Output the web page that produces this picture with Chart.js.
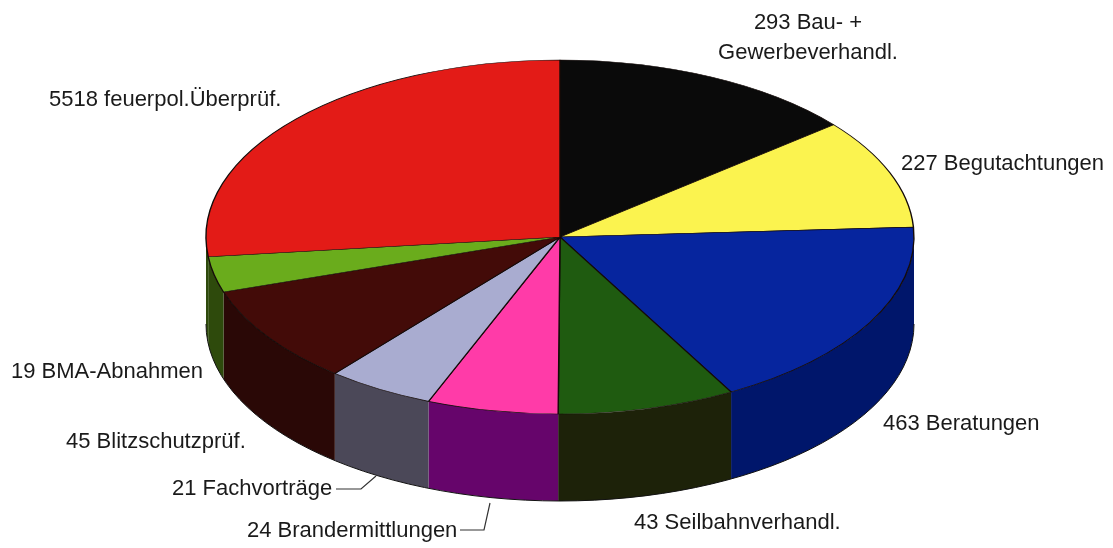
<!DOCTYPE html>
<html>
<head>
<meta charset="utf-8">
<style>
  html, body { margin: 0; background: #fff; }
  canvas { display: block; }
</style>
<script src="https://cdn.jsdelivr.net/npm/chart.js@4"></script>
</head>
<body>
<canvas id="chart" width="1113" height="548"></canvas>
<script>
// clockwise from 12 o'clock
const categories = ['Bau- + Gewerbeverhandl.', 'Begutachtungen', 'Beratungen', 'Seilbahnverhandl.',
  'Brandermittlungen', 'Fachvorträge', 'Blitzschutzprüf.', 'BMA-Abnahmen', 'feuerpol.Überprüf.'];
const labelCounts = [293, 227, 463, 43, 24, 21, 45, 19, 5518];
// the slices in the picture do not follow the printed counts, so these are read off as degrees
const sliceDegrees = [50.6, 36.2, 64.3, 29.2, 21.5, 17.7, 32.4, 11.7, 96.4];
const topColors = ['#0a0a0a', '#fbf34f', '#06259e', '#1f5b10', '#ff3ba8', '#a9acd0', '#430b08', '#6aac1c', '#e31b17'];
const sideColors = ['#050505', '#8a8520', '#00166b', '#1d2209', '#66056b', '#4b4858', '#2a0806', '#2e4a0c', '#2e4a0c'];

const SQUASH = 0.5;
const DEPTH = 87;
const FONT = '22px "Liberation Sans", Arial, sans-serif';

// text block per slice: x, baseline y, align
const labelBoxes = [
  { lines: [`${labelCounts[0]} Bau- +`, 'Gewerbeverhandl.'], x: 808, y: [29, 59], align: 'center' },
  { lines: [`${labelCounts[1]} Begutachtungen`], x: 901, y: [170], align: 'left' },
  { lines: [`${labelCounts[2]} Beratungen`], x: 883, y: [430], align: 'left' },
  { lines: [`${labelCounts[3]} Seilbahnverhandl.`], x: 634, y: [529], align: 'left' },
  { lines: [`${labelCounts[4]} Brandermittlungen`], x: 247, y: [537], align: 'left' },
  { lines: [`${labelCounts[5]} Fachvorträge`], x: 172, y: [495], align: 'left' },
  { lines: [`${labelCounts[6]} Blitzschutzprüf.`], x: 66, y: [448], align: 'left' },
  { lines: [`${labelCounts[7]} BMA-Abnahmen`], x: 11, y: [378], align: 'left' },
  { lines: [`${labelCounts[8]} feuerpol.Überprüf.`], x: 49, y: [106], align: 'left' },
];
const leaders = [
  [[336, 489], [361, 489], [376, 476]],
  [[460, 530], [484, 530], [490, 503]],
];

const pie3d = {
  id: 'pie3d',
  beforeDatasetsDraw(chart) {
    const { ctx } = chart;
    const arcs = chart.getDatasetMeta(0).data;
    const { x, y, outerRadius } = arcs[0];
    const ry = outerRadius * SQUASH;

    // side wall, only the front half of the ellipse shows
    arcs.forEach((arc, i) => {
      const from = Math.max(arc.startAngle, 0);
      const to = Math.min(arc.endAngle, Math.PI);
      if (to <= from) return;
      ctx.beginPath();
      ctx.ellipse(x, y, outerRadius, ry, 0, from, to);
      ctx.ellipse(x, y + DEPTH, outerRadius, ry, 0, to, from, true);
      ctx.closePath();
      ctx.fillStyle = sideColors[i];
      ctx.fill();
    });
    ctx.beginPath();
    ctx.ellipse(x, y + DEPTH, outerRadius, ry, 0, 0, Math.PI);
    ctx.strokeStyle = '#111';
    ctx.lineWidth = 1;
    ctx.stroke();

    ctx.save();
    ctx.translate(0, y);
    ctx.scale(1, SQUASH);
    ctx.translate(0, -y);
  },
  afterDatasetsDraw(chart) {
    const { ctx } = chart;
    ctx.restore();

    ctx.fillStyle = '#1a1a1a';
    ctx.font = FONT;
    labelBoxes.forEach(box => {
      ctx.textAlign = box.align;
      box.lines.forEach((line, i) => ctx.fillText(line, box.x, box.y[i]));
    });

    ctx.strokeStyle = '#333';
    ctx.lineWidth = 1.2;
    leaders.forEach(points => {
      ctx.beginPath();
      points.forEach(([px, py], i) => (i ? ctx.lineTo(px, py) : ctx.moveTo(px, py)));
      ctx.stroke();
    });
  },
};

new Chart(document.getElementById('chart'), {
  type: 'pie',
  data: {
    labels: categories,
    datasets: [{
      data: sliceDegrees,
      backgroundColor: topColors,
      borderColor: '#140a08',
      borderWidth: 1.4,
      radius: 354,
      clip: false,
    }],
  },
  options: {
    responsive: false,
    animation: false,
    layout: { padding: { left: 7, right: 0, top: 0, bottom: 74 } },
    events: [],
    plugins: { legend: { display: false }, tooltip: { enabled: false } },
  },
  plugins: [pie3d],
});
</script>
</body>
</html>
